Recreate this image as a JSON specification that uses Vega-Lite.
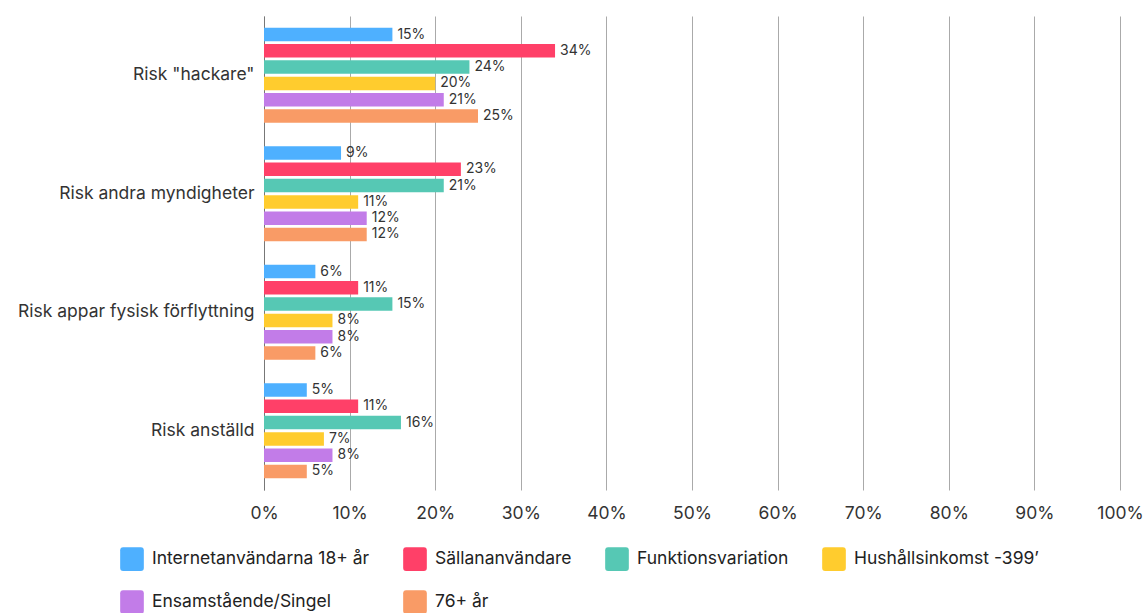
{
  "$schema": "https://vega.github.io/schema/vega-lite/v6.json",
  "autosize": "none",
  "padding": {"left": 264, "top": 16, "right": 24, "bottom": 123},
  "width": 856,
  "height": 474,
  "background": "white",
  "config": {
    "font": "Inter",
    "view": {"stroke": null}
  },
  "data": {
    "values": [
      {"kategori": "Risk \"hackare\"", "grupp": "Internetanvändarna 18+ år", "andel": 0.15},
      {"kategori": "Risk \"hackare\"", "grupp": "Sällananvändare", "andel": 0.34},
      {"kategori": "Risk \"hackare\"", "grupp": "Funktionsvariation", "andel": 0.24},
      {"kategori": "Risk \"hackare\"", "grupp": "Hushållsinkomst -399’", "andel": 0.20},
      {"kategori": "Risk \"hackare\"", "grupp": "Ensamstående/Singel", "andel": 0.21},
      {"kategori": "Risk \"hackare\"", "grupp": "76+ år", "andel": 0.25},
      {"kategori": "Risk andra myndigheter", "grupp": "Internetanvändarna 18+ år", "andel": 0.09},
      {"kategori": "Risk andra myndigheter", "grupp": "Sällananvändare", "andel": 0.23},
      {"kategori": "Risk andra myndigheter", "grupp": "Funktionsvariation", "andel": 0.21},
      {"kategori": "Risk andra myndigheter", "grupp": "Hushållsinkomst -399’", "andel": 0.11},
      {"kategori": "Risk andra myndigheter", "grupp": "Ensamstående/Singel", "andel": 0.12},
      {"kategori": "Risk andra myndigheter", "grupp": "76+ år", "andel": 0.12},
      {"kategori": "Risk appar fysisk förflyttning", "grupp": "Internetanvändarna 18+ år", "andel": 0.06},
      {"kategori": "Risk appar fysisk förflyttning", "grupp": "Sällananvändare", "andel": 0.11},
      {"kategori": "Risk appar fysisk förflyttning", "grupp": "Funktionsvariation", "andel": 0.15},
      {"kategori": "Risk appar fysisk förflyttning", "grupp": "Hushållsinkomst -399’", "andel": 0.08},
      {"kategori": "Risk appar fysisk förflyttning", "grupp": "Ensamstående/Singel", "andel": 0.08},
      {"kategori": "Risk appar fysisk förflyttning", "grupp": "76+ år", "andel": 0.06},
      {"kategori": "Risk anställd", "grupp": "Internetanvändarna 18+ år", "andel": 0.05},
      {"kategori": "Risk anställd", "grupp": "Sällananvändare", "andel": 0.11},
      {"kategori": "Risk anställd", "grupp": "Funktionsvariation", "andel": 0.16},
      {"kategori": "Risk anställd", "grupp": "Hushållsinkomst -399’", "andel": 0.07},
      {"kategori": "Risk anställd", "grupp": "Ensamstående/Singel", "andel": 0.08},
      {"kategori": "Risk anställd", "grupp": "76+ år", "andel": 0.05}
    ]
  },
  "encoding": {
    "y": {
      "field": "kategori",
      "type": "nominal",
      "sort": null,
      "title": null,
      "scale": {"paddingInner": 0.2, "paddingOuter": 0.1},
      "axis": {
        "labelFontSize": 17.5,
        "labelColor": "#333333",
        "labelPadding": 10,
        "ticks": false,
        "domain": true,
        "domainColor": "#777777",
        "grid": false,
        "labelLimit": 300
      }
    },
    "yOffset": {
      "field": "grupp",
      "type": "nominal",
      "sort": null,
      "scale": {"paddingInner": 0.17, "paddingOuter": 0.0}
    },
    "x": {
      "field": "andel",
      "type": "quantitative",
      "title": null,
      "scale": {"domain": [0, 1]},
      "axis": {
        "format": ".0%",
        "values": [0, 0.1, 0.2, 0.3, 0.4, 0.5, 0.6, 0.7, 0.8, 0.9, 1],
        "labelFontSize": 17.5,
        "labelColor": "#333333",
        "labelPadding": 14,
        "ticks": false,
        "domain": false,
        "grid": true,
        "gridColor": "#aaaaaa",
        "gridWidth": 1,
        "labelFlush": false
      }
    }
  },
  "layer": [
    {
      "mark": {"type": "bar"},
      "encoding": {
        "color": {
          "field": "grupp",
          "type": "nominal",
          "sort": null,
          "title": null,
          "scale": {
            "domain": ["Internetanvändarna 18+ år", "Sällananvändare", "Funktionsvariation", "Hushållsinkomst -399’", "Ensamstående/Singel", "76+ år"],
            "range": ["#4eb0ff", "#ff4068", "#56c8b4", "#ffcc2e", "#c27ce8", "#f99b66"]
          },
          "legend": {
            "orient": "none",
            "legendX": -144,
            "legendY": 531,
            "direction": "horizontal",
            "columns": 4,
            "columnPadding": 33,
            "rowPadding": 19,
            "padding": 0,
            "symbolType": "M-0.75,-1H0.75Q1,-1 1,-0.75V0.75Q1,1 0.75,1H-0.75Q-1,1 -1,0.75V-0.75Q-1,-1 -0.75,-1Z",
            "symbolSize": 560,
            "symbolStrokeWidth": 0,
            "symbolOpacity": 1,
            "labelFontSize": 17.5,
            "labelColor": "#222222",
            "labelOffset": 8,
            "labelLimit": 400
          }
        }
      }
    },
    {
      "mark": {"type": "text", "align": "left", "baseline": "middle", "dx": 5, "fontSize": 14, "color": "#333333"},
      "encoding": {
        "text": {"field": "andel", "type": "quantitative", "format": ".0%"}
      }
    }
  ]
}
